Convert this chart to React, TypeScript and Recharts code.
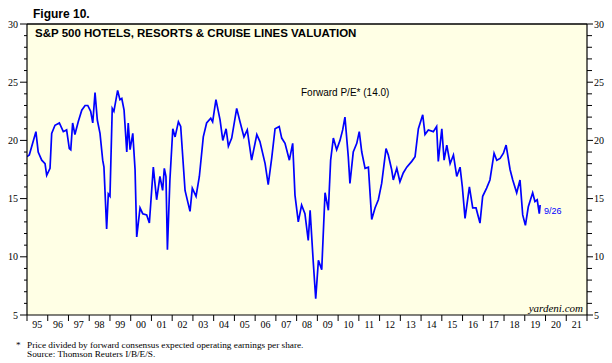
import React from "react";
import { LineChart, Line, XAxis, YAxis, CartesianGrid, ReferenceLine } from "recharts";

// decimal year of each reading
const dates = [
  1995.0, 1995.11, 1995.43, 1995.54, 1995.71, 1995.87, 1995.95, 1996.11, 1996.19, 1996.35,
  1996.56, 1996.75, 1996.91, 1997.04, 1997.11, 1997.2, 1997.31, 1997.47, 1997.64, 1997.8,
  1997.93, 1998.07, 1998.17, 1998.28, 1998.39, 1998.52, 1998.65, 1998.71, 1998.84, 1998.92,
  1999.0, 1999.11, 1999.19, 1999.37, 1999.48, 1999.57, 1999.68, 1999.81, 1999.88, 1999.97,
  2000.1, 2000.21, 2000.29, 2000.45, 2000.58, 2000.77, 2000.9, 2001.09, 2001.25, 2001.41,
  2001.54, 2001.62, 2001.7, 2001.77, 2001.89, 2002.03, 2002.14, 2002.3, 2002.41, 2002.62,
  2002.86, 2002.97, 2003.15, 2003.31, 2003.5, 2003.66, 2003.86, 2003.95, 2004.11, 2004.31,
  2004.44, 2004.6, 2004.71, 2004.87, 2005.11, 2005.27, 2005.46, 2005.62, 2005.83, 2006.08,
  2006.23, 2006.48, 2006.63, 2006.8, 2006.96, 2007.16, 2007.28, 2007.44, 2007.65, 2007.81,
  2007.92, 2008.08, 2008.24, 2008.4, 2008.56, 2008.65, 2008.8, 2008.92, 2009.05, 2009.21,
  2009.37, 2009.53, 2009.64, 2009.77, 2009.93, 2010.09, 2010.22, 2010.33, 2010.49, 2010.57,
  2010.73, 2010.9, 2011.02, 2011.14, 2011.3, 2011.46, 2011.62, 2011.78, 2011.94, 2012.1,
  2012.31, 2012.42, 2012.58, 2012.66, 2012.83, 2012.98, 2013.14, 2013.31, 2013.55, 2013.71,
  2013.87, 2014.08, 2014.19, 2014.35, 2014.59, 2014.75, 2014.83, 2015.0, 2015.11, 2015.24,
  2015.4, 2015.56, 2015.72, 2015.88, 2015.99, 2016.12, 2016.33, 2016.49, 2016.65, 2016.84,
  2016.97, 2017.16, 2017.32, 2017.52, 2017.65, 2017.81, 2017.97, 2018.1, 2018.29, 2018.42,
  2018.61, 2018.77, 2018.9, 2019.03, 2019.17, 2019.38, 2019.49, 2019.6, 2019.7, 2019.74,
];

// forward P/E
const forwardPE = [
  18.6, 18.75, 20.75, 19.0, 18.3, 18.0, 17.0, 17.6, 20.6, 21.3,
  21.5, 20.75, 20.9, 19.3, 19.2, 21.5, 20.5, 21.6, 22.6, 23.0,
  23.0, 22.5, 21.5, 24.1, 21.75, 20.6, 18.3, 17.7, 12.4, 15.4,
  15.2, 22.75, 22.5, 24.3, 23.5, 23.6, 22.6, 19.0, 21.5, 19.2,
  20.6, 17.5, 11.7, 14.2, 13.7, 13.6, 12.9, 17.7, 14.9, 16.9,
  15.7, 17.6, 16.9, 10.6, 16.6, 21.0, 20.3, 21.6, 21.2, 15.7,
  13.9, 15.9, 15.2, 16.9, 20.3, 21.5, 21.9, 21.6, 23.5, 21.75,
  20.0, 21.0, 19.5, 20.2, 22.75, 21.6, 20.3, 20.9, 18.3, 20.5,
  19.9, 18.0, 16.2, 18.5, 21.0, 21.2, 20.2, 19.75, 18.3, 19.75,
  15.3, 13.0, 14.45, 13.7, 11.4, 14.0, 9.6, 6.4, 9.7, 8.9,
  15.5, 14.0, 18.3, 20.2, 19.2, 20.0, 20.9, 22.0, 18.6, 16.3,
  19.0, 19.75, 20.75, 19.0, 17.6, 17.7, 13.2, 14.2, 14.9, 16.3,
  19.3, 18.75, 17.5, 16.6, 17.6, 16.45, 17.2, 17.7, 18.2, 18.6,
  21.0, 22.2, 20.5, 20.9, 20.75, 21.2, 18.2, 21.0, 18.3, 19.6,
  18.0, 18.75, 16.9, 17.7, 16.0, 13.3, 16.0, 14.2, 14.2, 12.9,
  15.2, 15.9, 16.6, 18.9, 18.3, 18.45, 18.9, 19.6, 17.5, 16.6,
  15.5, 16.6, 13.6, 12.7, 14.3, 15.5, 14.75, 14.9, 13.7, 14.45,
];

const years = [
  1995, 1996, 1997, 1998, 1999, 2000, 2001, 2002, 2003, 2004, 2005, 2006, 2007, 2008,
  2009, 2010, 2011, 2012, 2013, 2014, 2015, 2016, 2017, 2018, 2019, 2020, 2021, 2022,
];
const yTicks = [
  5, 6, 7, 8, 9, 10, 11, 12, 13, 14, 15, 16, 17, 18, 19, 20, 21, 22, 23, 24, 25, 26, 27, 28, 29, 30,
];

const data = dates.map((t, i) => ({ t, pe: forwardPE[i] }));

const SANS = "'Liberation Sans', Arial, sans-serif";
const SERIF = "'Liberation Serif', 'Times New Roman', serif";
const YEAR_W = 560 / 27;

const LeftTick = (props: any) => {
  const { x, y, payload } = props;
  const major = payload.value % 5 === 0;
  return (
    <g>
      <line x1={x - (major ? 7 : 3)} x2={x} y1={y} y2={y} stroke="#000" />
      {major && (
        <text x={x - 9} y={y + 3.5} textAnchor="end" fontSize={10} fontFamily={SERIF} fill="#000">
          {payload.value}
        </text>
      )}
    </g>
  );
};

const RightTick = (props: any) => {
  const { x, y, payload } = props;
  const major = payload.value % 5 === 0;
  return (
    <g>
      <line x1={x} x2={x + (major ? 6 : 5)} y1={y} y2={y} stroke="#000" />
      {major && (
        <text x={x + 7} y={y + 3.5} textAnchor="start" fontSize={10} fontFamily={SERIF} fill="#000">
          {payload.value}
        </text>
      )}
    </g>
  );
};

const YearTick = (props: any) => {
  const { x, y, payload } = props;
  const yr = payload.value;
  return (
    <g>
      <line x1={x} x2={x} y1={y} y2={y + 6} stroke="#000" />
      {yr < 2022 && (
        <text x={x + YEAR_W / 2} y={y + 12.5} textAnchor="middle" fontSize={10} fontFamily={SERIF} fill="#000">
          {String(yr % 100).padStart(2, "0")}
        </text>
      )}
    </g>
  );
};

export default function App() {
  return (
    <div style={{ position: "absolute", left: 0, top: 0, width: 612, height: 363, background: "#fff" }}>
      <LineChart width={612} height={363} data={data} margin={{ top: 24, right: 0, bottom: 0, left: 0 }}>
        <CartesianGrid horizontal={false} vertical={false} fill="#FFFFE5" />
        <XAxis
          dataKey="t"
          type="number"
          domain={[1995, 2022]}
          ticks={years}
          interval={0}
          height={48}
          tickSize={0}
          tickMargin={0}
          tickLine={false}
          axisLine={{ stroke: "#000", strokeWidth: 1.2 }}
          tick={<YearTick />}
          allowDataOverflow
        />
        <YAxis
          domain={[5, 30]}
          ticks={yTicks}
          interval={0}
          width={27}
          tickSize={0}
          tickMargin={0}
          tickLine={false}
          axisLine={{ stroke: "#000", strokeWidth: 1.2 }}
          tick={<LeftTick />}
          allowDataOverflow
        />
        <YAxis
          yAxisId="r"
          orientation="right"
          domain={[5, 30]}
          ticks={yTicks}
          interval={0}
          width={25}
          tickSize={0}
          tickMargin={0}
          tickLine={false}
          axisLine={{ stroke: "#000", strokeWidth: 1.2 }}
          tick={<RightTick />}
          allowDataOverflow
        />
        <ReferenceLine y={30} stroke="#000" strokeWidth={1.5} />
        <Line
          dataKey="pe"
          type="linear"
          stroke="#0000FF"
          strokeWidth={1.7}
          dot={false}
          isAnimationActive={false}
        />
      </LineChart>
      <svg width={612} height={363} style={{ position: "absolute", left: 0, top: 0, pointerEvents: "none" }}>
        <text x={33} y={18} fontSize={12} fontWeight="bold" fontFamily={SANS} fill="#000">
          Figure 10.
        </text>
        <text x={35} y={37} fontSize={11.5} fontWeight="bold" fontFamily={SANS} fill="#000">
          S&amp;P 500 HOTELS, RESORTS &amp; CRUISE LINES VALUATION
        </text>
        <text x={301} y={96} fontSize={10} fontFamily={SANS} fill="#000">
          Forward P/E* (14.0)
        </text>
        <text x={544} y={214} fontSize={9} fontFamily={SANS} fill="#0000FF">
          9/26
        </text>
        <text x={583} y={312} textAnchor="end" fontSize={11} fontStyle="italic" fontFamily={SERIF} fill="#000">
          yardeni.com
        </text>
        <text x={16} y={348} fontSize={9.25} fontFamily={SERIF} fill="#000">
          *
        </text>
        <text x={27} y={348} fontSize={9.25} fontFamily={SERIF} fill="#000">
          Price divided by forward consensus expected operating earnings per share.
        </text>
        <text x={27} y={357} fontSize={9.25} fontFamily={SERIF} fill="#000">
          Source: Thomson Reuters I/B/E/S.
        </text>
      </svg>
    </div>
  );
}
